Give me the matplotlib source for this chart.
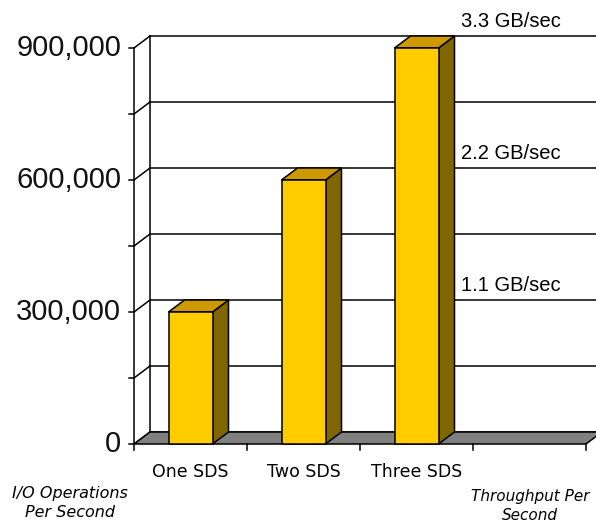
import matplotlib.pyplot as plt
from matplotlib.patches import Polygon, Rectangle

# Données
categories = ['One SDS', 'Two SDS', 'Three SDS', '']
iops = [300000, 600000, 900000]
y_ticks = [0, 300000, 600000, 900000]
y_ticklabels = ['0', '300,000', '600,000', '900,000']
grid_vals = [0, 150000, 300000, 450000, 600000, 750000, 900000]
throughput = ['1.1 GB/sec', '2.2 GB/sec', '3.3 GB/sec']
throughput_at = [300000, 600000, 900000]

W, H = 596, 523
fig = plt.figure(figsize=(W / 100, H / 100), dpi=100)
ax = fig.add_axes([0, 0, 1, 1])

# mise en page en pixels -> coordonnées des données
x0_px, cat_px = 134, 113            # bord gauche de l'axe, largeur d'une catégorie
y0_px, unit_px = 444, 132 / 300000  # ligne du zéro, pixels par unité
ax.set_xlim(-0.5 - x0_px / cat_px, -0.5 + (W - x0_px) / cat_px)
ax.set_ylim(-(H - y0_px) / unit_px, y0_px / unit_px)
ax.axis('off')

ddx = 16 / cat_px      # profondeur 3D
ddy = 12 / unit_px
left, right = -0.5, len(categories) - 0.5
top = max(y_ticks)
lw = 1.1

# Sol gris
ax.add_patch(Polygon([(left, 0), (right, 0), (right + ddx, ddy), (left + ddx, ddy)],
                     closed=True, facecolor='#808080', edgecolor='black', lw=lw, zorder=2))

# Mur du fond + quadrillage
for v in grid_vals:
    ax.plot([left + ddx, right + ddx], [v + ddy, v + ddy], color='black', lw=lw, zorder=1)
    ax.plot([left, left + ddx], [v, v + ddy], color='black', lw=lw, zorder=1)
ax.plot([left + ddx, left + ddx], [ddy, top + ddy], color='black', lw=lw, zorder=1)
ax.plot([left, left], [0, top], color='black', lw=lw, zorder=3)

# Graduations
tick_w = 5 / cat_px
for v in grid_vals:
    ax.plot([left - tick_w, left], [v, v], color='black', lw=lw, zorder=3)
for i in range(len(categories) + 1):
    ax.plot([left + i, left + i], [0, -6 / unit_px], color='black', lw=lw, zorder=3)

for v, lab in zip(y_ticks, y_ticklabels):
    ax.text(left - 13 / cat_px, v, lab, ha='right', va='center', fontsize=21,
            family='Liberation Sans', color='#111111')

for i, lab in enumerate(categories):
    ax.text(i, -28 / unit_px, lab, ha='center', va='center', fontsize=12.5,
            family='DejaVu Sans', color='black')

# Barres 3D
bw = 44 / cat_px
for i, v in enumerate(iops):
    xl, xr = i - bw / 2, i + bw / 2
    ax.add_patch(Polygon([(xr, 0), (xr + ddx, ddy), (xr + ddx, v + ddy), (xr, v)],
                         closed=True, facecolor='#806600', edgecolor='black', lw=lw, zorder=4))
    ax.add_patch(Polygon([(xl, v), (xr, v), (xr + ddx, v + ddy), (xl + ddx, v + ddy)],
                         closed=True, facecolor='#CC9900', edgecolor='black', lw=lw, zorder=4))
    ax.add_patch(Rectangle((xl, 0), bw, v, facecolor='#FFCC00', edgecolor='black',
                           lw=lw, zorder=5))

# Débits
tx = (461 - x0_px) / cat_px - 0.5
for v, lab in zip(throughput_at, throughput):
    ax.text(tx, v + ddy + 5 / unit_px, lab, ha='left', va='bottom', fontsize=14.5,
            family='Liberation Sans', color='black')

# Titres des axes
ax.text(left - 64 / cat_px, -59 / unit_px, 'I/O Operations\nPer Second', ha='center',
        va='center', fontsize=11.5, style='italic', family='DejaVu Sans', linespacing=1.3)
ax.text(right - 56 / cat_px, -62 / unit_px, 'Throughput Per\nSecond', ha='center',
        va='center', fontsize=11, style='italic', family='DejaVu Sans', linespacing=1.35)

plt.savefig('out.png', dpi=100, facecolor='white')
plt.close()
